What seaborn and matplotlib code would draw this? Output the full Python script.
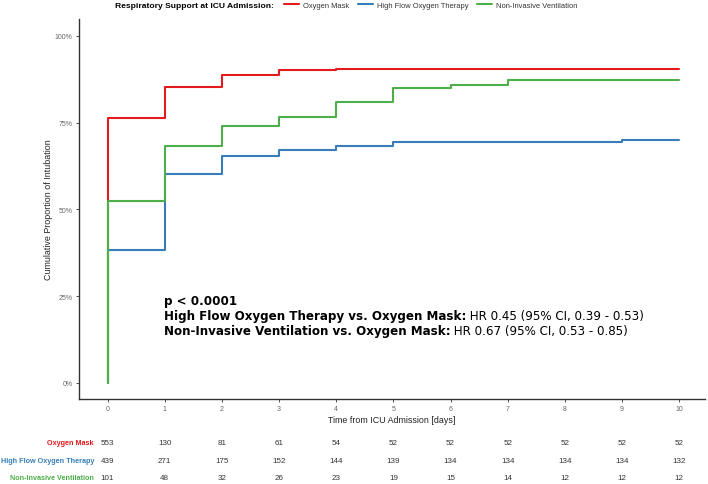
import numpy as np
import pandas as pd
import matplotlib
matplotlib.use("Agg")
import matplotlib.pyplot as plt
import matplotlib.transforms as mtransforms
from matplotlib.lines import Line2D
import seaborn as sns

# ---------------- data ----------------
groups = ["Oxygen Mask", "High Flow Oxygen Therapy", "Non-Invasive Ventilation"]
colors = ["#E41A1C", "#377EB8", "#4DAF4A"]
days = [0, 1, 2, 3, 4, 5, 6, 7, 8, 9, 10]
cum_oxygen_mask = [0.764, 0.852, 0.888, 0.901, 0.905, 0.905, 0.905, 0.905, 0.905, 0.905, 0.905]
cum_high_flow = [0.382, 0.601, 0.654, 0.671, 0.682, 0.693, 0.695, 0.695, 0.695, 0.699, 0.699]
cum_niv = [0.525, 0.683, 0.739, 0.767, 0.811, 0.851, 0.860, 0.874, 0.874, 0.874, 0.874]
risk_oxygen_mask = [553, 130, 81, 61, 54, 52, 52, 52, 52, 52, 52]
risk_high_flow = [439, 271, 175, 152, 144, 139, 134, 134, 134, 134, 132]
risk_niv = [101, 48, 32, 26, 23, 19, 15, 14, 12, 12, 12]
y_ticks = [0, 0.25, 0.5, 0.75, 1.0]
y_ticklabels = ["0%", "25%", "50%", "75%", "100%"]
annot_p = "p < 0.0001"
annot_bold = ["High Flow Oxygen Therapy vs. Oxygen Mask:", "Non-Invasive Ventilation vs. Oxygen Mask:"]
annot_norm = [" HR 0.45 (95% CI, 0.39 - 0.53)", " HR 0.67 (95% CI, 0.53 - 0.85)"]

cums = [cum_oxygen_mask, cum_high_flow, cum_niv]
risks = [risk_oxygen_mask, risk_high_flow, risk_niv]

rows = []
for g, c in zip(groups, cums):
    rows.append({"group": g, "time": 0.0, "prop": 0.0})
    for t, v in zip(days, c):
        rows.append({"group": g, "time": float(t), "prop": v})
df = pd.DataFrame(rows)

# ---------------- figure ----------------
sns.set_theme(style="white")
plt.rcParams["font.family"] = ["Liberation Sans", "DejaVu Sans"]

W, H = 708, 485
fig = plt.figure(figsize=(W / 100, H / 100), dpi=100)
ax_left, ax_right, ax_top, ax_bot = 79, 705, 20, 400
ax = fig.add_axes([ax_left / W, 1 - ax_bot / H, (ax_right - ax_left) / W, (ax_bot - ax_top) / H])

sns.lineplot(data=df, x="time", y="prop", hue="group", hue_order=groups,
             palette=colors, estimator=None, sort=False, units="group",
             drawstyle="steps-post", linewidth=1.5, legend=False, ax=ax)

ax.set_xlim(-0.5, 10.45)
ax.set_ylim(-0.047, 1.049)
ax.set_xticks(days)
ax.set_xticklabels([str(d) for d in days])
ax.set_yticks(y_ticks)
ax.set_yticklabels(y_ticklabels)
ax.tick_params(axis="both", labelsize=5, colors="#333333", labelcolor="#666666",
               length=2.5, width=0.6, pad=2, direction="out", bottom=True, left=True)
for side in ["top", "right"]:
    ax.spines[side].set_visible(False)
for side in ["left", "bottom"]:
    ax.spines[side].set_color("#333333")
    ax.spines[side].set_linewidth(1.0)
ax.set_xlabel("Time from ICU Admission [days]", fontsize=6.4, color="#222222", labelpad=2)
ax.set_ylabel("Cumulative Proportion of Intubation", fontsize=6.4, color="#222222", labelpad=1)
ax.grid(False)

# ---------------- annotation ----------------
afont = dict(family="DejaVu Sans", fontsize=8.6, color="black")
y0 = (384 - 302) / 347
ax.text(0.98, y0, annot_p, fontweight="bold", va="center", ha="left", **afont)
dy = 15.0 / 347
for k, (b, n) in enumerate(zip(annot_bold, annot_norm)):
    tb = ax.text(0.98, y0 - dy * (k + 1), b, fontweight="bold", va="center", ha="left", **afont)
    ax.annotate(n, xy=(1, 0.5), xycoords=tb, va="center", ha="left", **afont)

# ---------------- legend ----------------
fig.text(115 / W, 1 - 6 / H, "Respiratory Support at ICU Admission:", fontsize=6.1,
         fontweight="bold", ha="left", va="center", color="black")
handles = [Line2D([0], [0], color=c, lw=1.5) for c in colors]
fig.legend(handles, groups, loc="center left", bbox_to_anchor=(284 / W, 1 - 6 / H),
           ncol=3, frameon=False, fontsize=5.4, handlelength=2.0, handletextpad=0.5,
           columnspacing=1.2, borderaxespad=0, borderpad=0, labelcolor="#333333")

# ---------------- risk table ----------------
trans = mtransforms.blended_transform_factory(ax.transData, fig.transFigure)
row_y = [444, 462, 479]
for g, c, r, yy in zip(groups, colors, risks, row_y):
    fig.text(94 / W, 1 - yy / H, g, color=c, fontsize=5.2, fontweight="bold",
             ha="right", va="center")
    for d, n in zip(days, r):
        ax.text(d, 1 - yy / H, str(n), transform=trans, fontsize=5.8, color="#333333",
                ha="center", va="center", clip_on=False)

fig.savefig("out.png", dpi=100)
